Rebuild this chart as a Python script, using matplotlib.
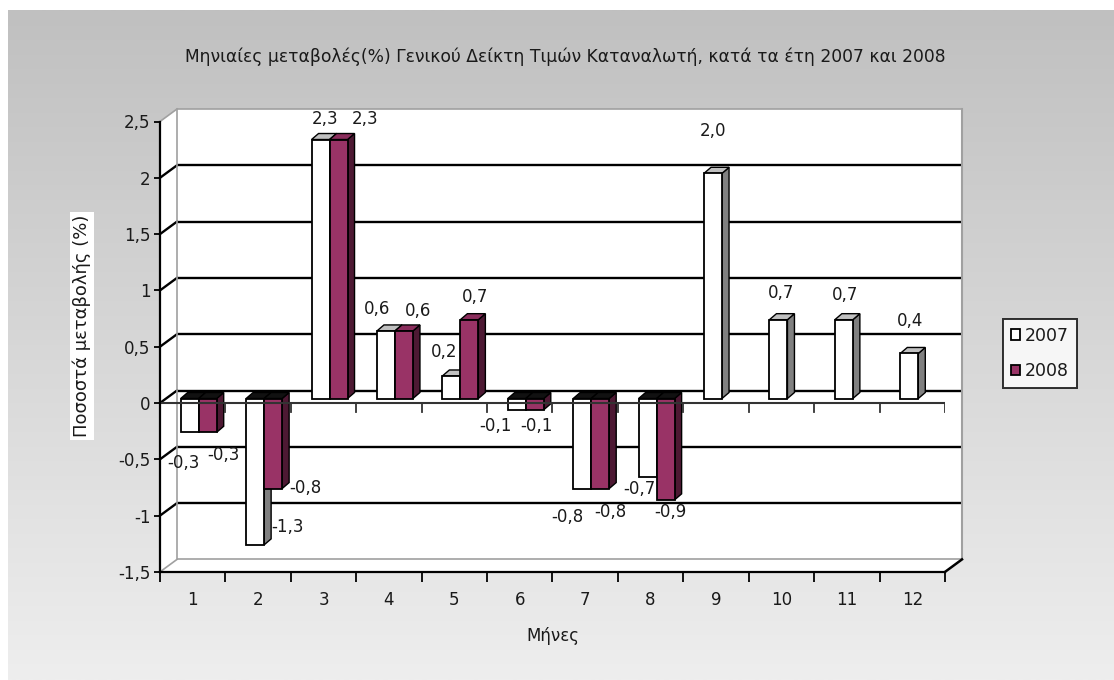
import numpy as np
import matplotlib
matplotlib.use("Agg")
import matplotlib.pyplot as plt
from matplotlib.patches import Polygon

# ---- data -----------------------------------------------------------------
months = list(range(1, 13))
values_2007 = [-0.3, -1.3, 2.3, 0.6, 0.2, -0.1, -0.8, -0.7, 2.0, 0.7, 0.7, 0.4]
values_2008 = [-0.3, -0.8, 2.3, 0.6, 0.7, -0.1, -0.8, -0.9]
series_names = ["2007", "2008"]
y_ticks = [-1.5, -1.0, -0.5, 0.0, 0.5, 1.0, 1.5, 2.0, 2.5]

title_text = "Μηνιαίες μεταβολές(%) Γενικού Δείκτη Τιμών Καταναλωτή, κατά τα έτη 2007 και 2008"
y_label_text = "Ποσοστά μεταβολής (%)"
x_label_text = "Μήνες"

# data-label placement (pixel offsets from the end of each bar)
label_offsets_2007 = [(-6, 26), (32, -22), (5, -25), (-9, -26), (-7, -28), (-21, 12),
                      (-15, 24), (-8, 7), (0, -47), (3, -31), (1, -29), (1, -37)]
label_offsets_2008 = [(16, 18), (32, -5), (27, -25), (14, -24), (6, -27), (2, 12),
                      (10, 19), (5, 8)]

# ---- styling --------------------------------------------------------------
W, H = 1114, 680
plt.rcParams["font.family"] = ["DejaVu Sans"]
plt.rcParams["axes.unicode_minus"] = False
TEXT = "#1a1a1a"
face_colors = ["#ffffff", "#993366"]
side_colors = ["#808080", "#4d1933"]
top_colors = ["#c0c0c0", "#8a2d5c"]
BORDER = "#a0a0a0"

fig = plt.figure(figsize=(W / 100, H / 100), dpi=100)
fig.patch.set_facecolor("white")

# gradient backdrop
bg = fig.add_axes([0, 0, 1, 1], zorder=-5)
bg.set_xlim(0, W)
bg.set_ylim(H, 0)
bg.axis("off")
shade = np.linspace(192, 238, 256)[:, None] / 255.0
grad = np.repeat(shade[:, :, None], 3, axis=2)
bg.imshow(grad, extent=(8, W, H, 10), aspect="auto", interpolation="bilinear")

# main chart axes (front plane of the 3-D box)
x_left_px, x_right_px = 160, 945
y_top_px, y_bot_px = 121.5, 571.9
ax = fig.add_axes([x_left_px / W, 1 - y_bot_px / H,
                   (x_right_px - x_left_px) / W, (y_bot_px - y_top_px) / H])
ax.set_facecolor("none")
ax.set_xlim(0.5, 12.5)
ax.set_ylim(-1.5, 2.5)

px_x = (x_right_px - x_left_px) / 12.0
px_y = (y_bot_px - y_top_px) / 4.0

# depth offsets (data units)
DX, DY = 17 / px_x, 12.5 / px_y        # back wall
SX, SY = 6 / px_x, 4.5 / px_y          # bar front plane
BDX, BDY = 7 / px_x, 6 / px_y          # bar depth
BW = 18 / px_x                         # bar width

x0, x1 = 0.5, 12.5
y0, y1 = -1.5, 2.5

# walls and floor
wall = Polygon([(x0, y0), (x0, y1), (x0 + DX, y1 + DY), (x1 + DX, y1 + DY),
                (x1 + DX, y0 + DY), (x1, y0)], closed=True,
               facecolor="white", edgecolor="none", zorder=0.5, clip_on=False)
ax.add_patch(wall)

for v in y_ticks:
    inner = y0 < v < y1
    col = "black" if inner else BORDER
    lw = 1.7 if inner else 1.2
    ax.plot([x0 + DX, x1 + DX], [v + DY, v + DY], color=col, lw=lw,
            zorder=1, clip_on=False, solid_capstyle="butt")
    ax.plot([x0, x0 + DX], [v, v + DY], color=col, lw=lw, zorder=1, clip_on=False)

ax.plot([x0 + DX, x0 + DX], [y0 + DY, y1 + DY], color=BORDER, lw=1.2, zorder=1, clip_on=False)
ax.plot([x1 + DX, x1 + DX], [y0 + DY, y1 + DY], color=BORDER, lw=1.5, zorder=1, clip_on=False)
ax.plot([x1, x1 + DX], [y0, y0 + DY], color="black", lw=1.8, zorder=1, clip_on=False)


def draw_bar(xc_left, value, idx, z):
    """Front face through ax.bar plus side and top faces for depth."""
    bars = ax.bar(xc_left + BW / 2, value, width=BW, bottom=SY,
                  color=face_colors[idx], edgecolor="black", linewidth=1.3,
                  zorder=z + 0.2, label=series_names[idx])
    xl, xr = xc_left, xc_left + BW
    lo, hi = SY + min(value, 0), SY + max(value, 0)
    side = Polygon([(xr, lo), (xr, hi), (xr + BDX, hi + BDY), (xr + BDX, lo + BDY)],
                   closed=True, facecolor=side_colors[idx], edgecolor="black",
                   linewidth=1.0, zorder=z)
    top_col = top_colors[idx] if value > 0 else "#111111"
    top = Polygon([(xl, hi), (xr, hi), (xr + BDX, hi + BDY), (xl + BDX, hi + BDY)],
                  closed=True, facecolor=top_col, edgecolor="black",
                  linewidth=1.0, zorder=z)
    ax.add_patch(side)
    ax.add_patch(top)
    return bars


def fmt(v):
    return f"{v:.1f}".replace(".", ",")


handles = [None, None]
for series_idx, (vals, offs) in enumerate([(values_2007, label_offsets_2007),
                                           (values_2008, label_offsets_2008)]):
    for m, v, (ox, oy) in zip(months, vals, offs):
        left = m - BW + SX if series_idx == 0 else m + SX
        z = 3 + m * 0.1 + series_idx * 0.05
        b = draw_bar(left, v, series_idx, z)
        if handles[series_idx] is None:
            handles[series_idx] = b
        ax.annotate(fmt(v), xy=(left + BW / 2, v), xytext=(ox, -oy),
                    textcoords="offset pixels", ha="center", va="center",
                    fontsize=12, color=TEXT, zorder=20, annotation_clip=False)

# category axis crossing at zero, drawn over the bars
ax.plot([x0, x1], [0, 0], color="#333333", lw=1.5, zorder=15)
tick_len = 9 / px_y
for b in np.arange(0.5, 12.51, 1.0):
    ax.plot([b, b], [0, -tick_len], color="#333333", lw=1.3, zorder=15)

# axes spines / ticks
for side_name in ("top", "right"):
    ax.spines[side_name].set_visible(False)
for side_name in ("left", "bottom"):
    ax.spines[side_name].set_color("black")
    ax.spines[side_name].set_linewidth(1.6)
    ax.spines[side_name].set_zorder(16)

ax.set_yticks(y_ticks)
ax.set_yticklabels([f"{v:g}".replace(".", ",") for v in y_ticks])
ax.tick_params(axis="y", direction="out", length=4, width=1.3, pad=3,
               labelsize=12, labelcolor=TEXT, color="black")

ax.set_xticks(np.arange(0.5, 12.51, 1.0))
ax.set_xticklabels([])
ax.set_xticks(months, minor=True)
ax.set_xticklabels([str(m) for m in months], minor=True)
ax.tick_params(axis="x", which="major", direction="out", length=7, width=1.3,
               color="black")
ax.tick_params(axis="x", which="minor", length=0, pad=14, labelsize=12,
               labelcolor=TEXT)

# texts
fig.text(565 / W, 1 - 57 / H, title_text, ha="center", va="center",
         fontsize=12.3, color=TEXT)
fig.text(82 / W, 1 - 326 / H, y_label_text, ha="center", va="center",
         rotation=90, fontsize=13, color=TEXT,
         bbox=dict(facecolor="white", edgecolor="none", pad=2))
fig.text(553 / W, 1 - 636 / H, x_label_text, ha="center", va="center",
         fontsize=12, color=TEXT)

leg = fig.legend(handles=handles, labels=series_names, loc="upper left",
                 bbox_to_anchor=(1003 / W, 1 - 319 / H), bbox_transform=fig.transFigure,
                 borderaxespad=0, fontsize=12.5, frameon=True, fancybox=False,
                 handlelength=0.55, handleheight=0.55, handletextpad=0.25,
                 labelspacing=1.0, borderpad=0.45)
leg.get_frame().set_edgecolor("black")
leg.get_frame().set_linewidth(1.4)
for t in leg.get_texts():
    t.set_color(TEXT)

fig.savefig("out.png", dpi=100)
